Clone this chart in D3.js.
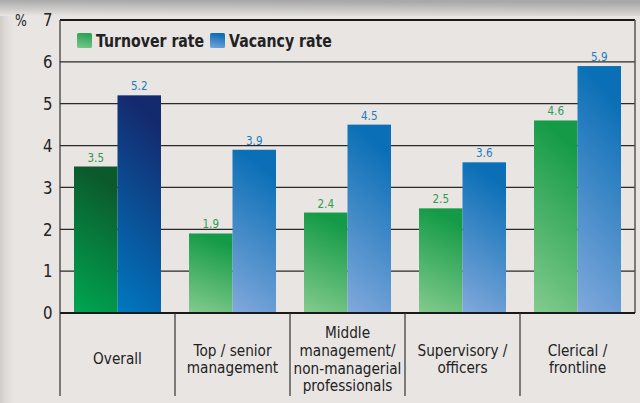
<!DOCTYPE html>
<html>
<head>
<meta charset="utf-8">
<script src="https://cdn.jsdelivr.net/npm/d3@7"></script>
<style>
  body { margin: 0; background: #e8e5e2; }
  svg { display: block; }
</style>
</head>
<body>
<div id="chart"></div>
<script>
'use strict';
const categories = ["Overall", "Top / senior\nmanagement", "Middle\nmanagement/\nnon-managerial\nprofessionals", "Supervisory /\nofficers", "Clerical /\nfrontline"];
const seriesNames = ["Turnover rate", "Vacancy rate"];
const turnover = [3.5, 1.9, 2.4, 2.5, 4.6];
const vacancy = [5.2, 3.9, 4.5, 3.6, 5.9];
const yTicks = [0, 1, 2, 3, 4, 5, 6, 7];

const width = 640, height = 403;
const plotLeft = 60, plotRight = 635, plotTop = 20, zeroY = 313, plotBottom = 396;
const font = "'DejaVu Sans', sans-serif";
const squeeze = 0.83; // fake a condensed face

let svg = d3.select("#chart").append("svg")
  .attr("width", width)
  .attr("height", height);

// text placed at (x, y) but squeezed horizontally
function narrowText(parent, x, y, str, sx) {
  return parent.append("g").attr("transform", "translate(" + [x, y] + ") scale(" + (sx || squeeze) + ",1)")
    .append("text").attr("font-family", font).text(str);
}

let defs = svg.append("defs");
function grad(id, c0, c1) {
  let g = defs.append("linearGradient").attr("id", id)
    .attr("x1", "0.2").attr("y1", "0").attr("x2", "0").attr("y2", "1");
  g.append("stop").attr("offset", "0%").attr("stop-color", c0);
  g.append("stop").attr("offset", "100%").attr("stop-color", c1);
}
grad("gTop", "#a8a8a8", "#e8e5e2");
defs.append("linearGradient").attr("id", "gLeft")
  .call(function (g) {
    g.append("stop").attr("offset", "0%").attr("stop-color", "#cfccc9");
    g.append("stop").attr("offset", "100%").attr("stop-color", "#e8e5e2").attr("stop-opacity", 0);
  });
grad("gT0", "#0b5a2c", "#00a651");
grad("gV0", "#142a6f", "#0079c1");
grad("gT", "#159b48", "#84cb8e");
grad("gV", "#0a6fb6", "#82a9dc");
grad("swT", "#2ea356", "#7ac98a");
grad("swV", "#0d6db5", "#7aa5da");

// background shading
svg.append("rect").attr("width", width).attr("height", height).attr("fill", "#e8e5e2");
svg.append("rect").attr("width", 18).attr("height", height).attr("fill", "url(#gLeft)");
svg.append("rect").attr("width", width).attr("height", 16).attr("fill", "url(#gTop)");

let y = d3.scaleLinear().domain([0, 7]).range([zeroY, plotTop]);
let x0 = d3.scaleBand().domain(d3.range(categories.length)).range([plotLeft, plotRight]);
let x1 = d3.scaleBand().domain(seriesNames).range([14, x0.bandwidth() - 14]);

// gridlines
svg.append("g").selectAll("line")
  .data(yTicks.filter(function (d) { return d > 0 && d < 7; }))
  .enter().append("line")
  .attr("x1", plotLeft).attr("x2", plotRight)
  .attr("y1", function (d) { return y(d); })
  .attr("y2", function (d) { return y(d); })
  .attr("stroke", "#2a2a2a").attr("stroke-width", 1.3);

// y labels
let yAxis = d3.axisLeft(y).tickValues(yTicks).tickFormat(d3.format("d")).tickSize(0).tickPadding(9);
let ya = svg.append("g").attr("transform", "translate(" + plotLeft + ",0)").call(yAxis);
ya.select(".domain").remove();
ya.selectAll("text").attr("font-family", font).attr("font-size", 18).attr("fill", "#222")
  .attr("transform", "scale(" + squeeze + ",1)");
narrowText(svg, 21, 26, "%").attr("text-anchor", "middle")
  .attr("font-size", 15).attr("fill", "#222");

// bars
let rows = categories.map(function (c, i) {
  return { i: i, vals: [{ s: seriesNames[0], v: turnover[i] }, { s: seriesNames[1], v: vacancy[i] }] };
});
let groups = svg.append("g").selectAll("g").data(rows).enter().append("g")
  .attr("transform", function (d) { return "translate(" + x0(d.i) + ",0)"; });
groups.each(function (row) {
  let g = d3.select(this);
  row.vals.forEach(function (d, k) {
    let fill = row.i === 0 ? (k === 0 ? "url(#gT0)" : "url(#gV0)") : (k === 0 ? "url(#gT)" : "url(#gV)");
    g.append("rect")
      .attr("x", x1(d.s)).attr("y", y(d.v))
      .attr("width", x1.bandwidth()).attr("height", zeroY - y(d.v))
      .attr("fill", fill);
    narrowText(g, x1(d.s) + x1.bandwidth() / 2, y(d.v) - 5, d.v.toFixed(1))
      .attr("text-anchor", "middle")
      .attr("font-size", 12.5)
      .attr("fill", k === 0 ? "#2f9a52" : "#1b7bbf");
  });
});

// frame
svg.append("line").attr("x1", plotLeft).attr("x2", plotRight).attr("y1", plotTop).attr("y2", plotTop)
  .attr("stroke", "#1a1a1a").attr("stroke-width", 2.2);
svg.append("line").attr("x1", plotRight).attr("x2", plotRight).attr("y1", plotTop).attr("y2", zeroY)
  .attr("stroke", "#555").attr("stroke-width", 1.5);
svg.append("line").attr("x1", plotLeft).attr("x2", plotRight).attr("y1", zeroY).attr("y2", zeroY)
  .attr("stroke", "#1a1a1a").attr("stroke-width", 1.8);
svg.append("g").selectAll("line")
  .data(d3.range(categories.length))
  .enter().append("line")
  .attr("x1", function (d) { return x0(d); }).attr("x2", function (d) { return x0(d); })
  .attr("y1", function (d) { return d === 0 ? plotTop : zeroY; }).attr("y2", plotBottom)
  .attr("stroke", "#333").attr("stroke-width", 1.2);

// category labels
let lineH = 17.6;
categories.forEach(function (c, i) {
  let lines = c.split("\n");
  let cy = lines.length === 4 ? 333 : 359 - (lines.length - 1) * lineH / 2;
  let t = narrowText(svg, x0(i) + x0.bandwidth() / 2, 0, null, 0.91)
    .attr("text-anchor", "middle").attr("font-size", 15).attr("fill", "#222");
  lines.forEach(function (l, j) {
    t.append("tspan").attr("x", 0).attr("y", cy + j * lineH + 5.5).text(l);
  });
});

// legend
let legend = svg.append("g");
[[77, "swT", seriesNames[0]], [210, "swV", seriesNames[1]]].forEach(function (l) {
  legend.append("rect").attr("x", l[0]).attr("y", 33).attr("width", 15).attr("height", 15)
    .attr("rx", 1.5).attr("fill", "url(#" + l[1] + ")");
  narrowText(legend, l[0] + 19, 47, l[2])
    .attr("font-size", 17).attr("font-weight", "bold").attr("fill", "#222");
});
</script>
</body>
</html>
